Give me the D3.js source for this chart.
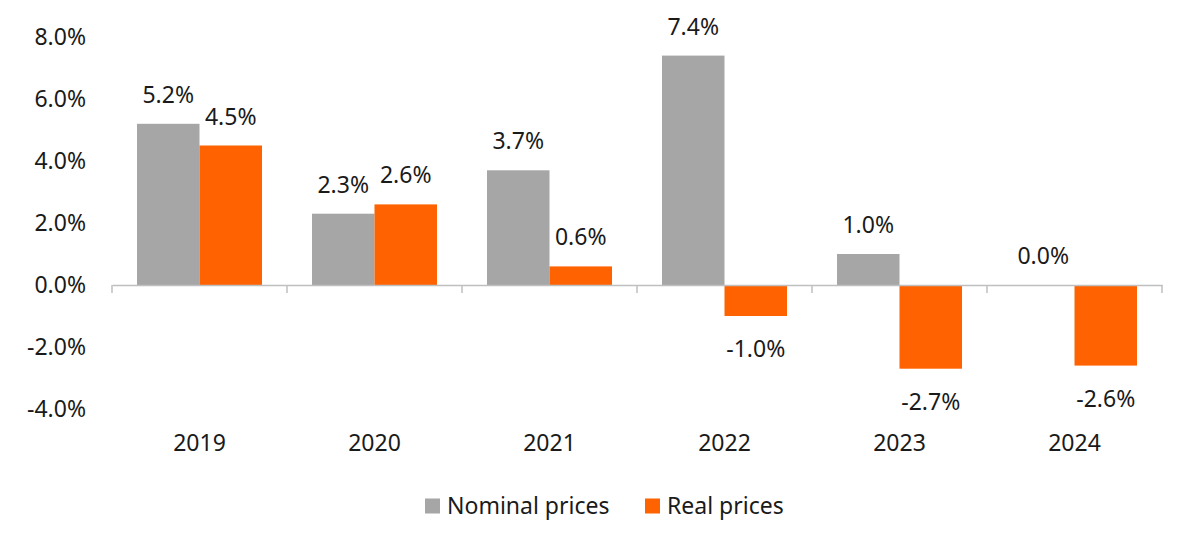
<!DOCTYPE html>
<html>
<head>
<meta charset="utf-8">
<script src="https://cdn.jsdelivr.net/npm/d3@7"></script>
<style>
  body { margin: 0; background: #fff; }
  svg { display: block; }
</style>
</head>
<body>
<svg width="1200" height="552"></svg>
<script>
const years = ["2019", "2020", "2021", "2022", "2023", "2024"];
const nominal = [5.2, 2.3, 3.7, 7.4, 1.0, 0.0];
const real = [4.5, 2.6, 0.6, -1.0, -2.7, -2.6];
const seriesNames = ["Nominal prices", "Real prices"];
const seriesColors = ["#a6a6a6", "#ff6200"];
const yTicks = [-4, -2, 0, 2, 4, 6, 8];

const font = "'Noto Sans', sans-serif";
const fontSize = 23;
const svg = d3.select("svg");

const x0 = d3.scaleBand().domain(years).range([112, 1162]).padding(0);
const x1 = d3.scaleBand().domain(seriesNames).range([0, x0.bandwidth()])
    .paddingInner(0).paddingOuter(0.4);
const y = d3.scaleLinear().domain([-4, 8]).range([409, 37]);

const fmt = v => v.toFixed(1) + "%";

// y labels (no axis line)
svg.append("g")
    .attr("font-family", font)
    .attr("font-size", fontSize)
    .attr("fill", "#1a1a1a")
  .selectAll("text")
  .data(yTicks)
  .join("text")
    .attr("x", 86)
    .attr("y", d => y(d))
    .attr("dy", "0.35em")
    .attr("text-anchor", "end")
    .text(fmt);

const rows = years.map((yr, i) => ({year: yr, values: [nominal[i], real[i]]}));

const groups = svg.append("g")
  .selectAll("g")
  .data(rows)
  .join("g")
    .attr("transform", d => `translate(${x0(d.year)},0)`);

groups.selectAll("rect")
  .data(d => d.values.map((v, j) => ({name: seriesNames[j], v, c: seriesColors[j]})))
  .join("rect")
    .attr("x", d => x1(d.name))
    .attr("width", x1.bandwidth())
    .attr("y", d => y(Math.max(0, d.v)))
    .attr("height", d => Math.abs(y(d.v) - y(0)))
    .attr("fill", d => d.c);

groups.selectAll("text")
  .data(d => d.values.map((v, j) => ({name: seriesNames[j], v})))
  .join("text")
    .attr("font-family", font)
    .attr("font-size", fontSize)
    .attr("fill", "#1a1a1a")
    .attr("text-anchor", "middle")
    .attr("x", d => x1(d.name) + x1.bandwidth() / 2)
    .attr("y", d => d.v >= 0 ? y(d.v) - 29 : y(d.v) + 33)
    .attr("dy", "0.35em")
    .text(d => fmt(d.v));

// x axis line at zero with tick marks
const xAxis = svg.append("g")
    .attr("transform", `translate(0,${y(0)})`)
    .call(d3.axisBottom(x0).tickSize(0).tickFormat(""));
xAxis.select(".domain").attr("stroke", "#bfbfbf").attr("stroke-width", 1.5);
const boundaries = years.map(yr => x0(yr)).concat([x0.range()[1]]);
xAxis.selectAll(".bound")
  .data(boundaries)
  .join("line")
    .attr("class", "bound")
    .attr("x1", d => d).attr("x2", d => d)
    .attr("y1", 0).attr("y2", 8)
    .attr("stroke", "#bfbfbf")
    .attr("stroke-width", 1.5);

svg.append("g")
    .attr("font-family", font)
    .attr("font-size", fontSize)
    .attr("fill", "#1a1a1a")
  .selectAll("text")
  .data(years)
  .join("text")
    .attr("x", d => x0(d) + x0.bandwidth() / 2)
    .attr("y", 443)
    .attr("dy", "0.35em")
    .attr("text-anchor", "middle")
    .text(d => d);

// legend
const legendX = [425, 645];
const legend = svg.append("g")
  .selectAll("g")
  .data(seriesNames)
  .join("g")
    .attr("transform", (d, i) => `translate(${legendX[i]},506)`);
legend.append("rect")
    .attr("x", 0).attr("y", -7.5)
    .attr("width", 15).attr("height", 15)
    .attr("fill", (d, i) => seriesColors[i]);
legend.append("text")
    .attr("x", 22)
    .attr("dy", "0.35em")
    .attr("font-family", font)
    .attr("font-size", fontSize)
    .attr("fill", "#1a1a1a")
    .text(d => d);
</script>
</body>
</html>
